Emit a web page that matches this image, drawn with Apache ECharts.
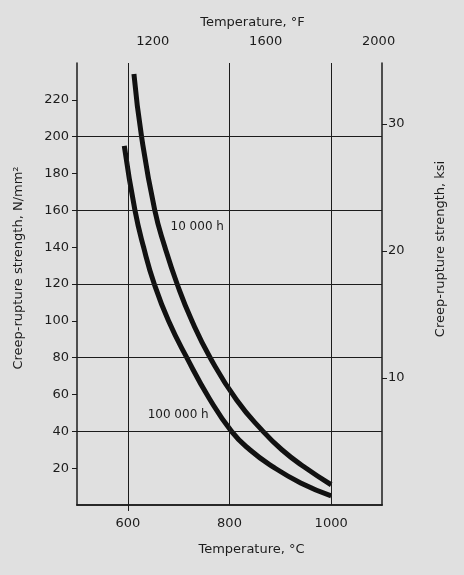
<!DOCTYPE html>
<html>
<head>
<meta charset="utf-8">
<script src="https://cdn.jsdelivr.net/npm/echarts@6/dist/echarts.min.js"></script>
<style>
  html, body { margin: 0; padding: 0; background: #e0e0e0; }
  #main { width: 464px; height: 575px; }
</style>
</head>
<body>
<div id="main"></div>
<script>
// creep-rupture curves, [temperature °C, strength N/mm²]
var rupture10k = [[612, 234], [627, 200], [653, 160], [673, 140], [697, 120],
  [726, 100], [762, 80], [814, 57], [866, 40], [903, 30], [945, 21], [1000, 11]];
var rupture100k = [[593, 195], [614, 160], [631, 140], [652, 120], [680, 100],
  [716, 80], [760, 58], [804, 40], [840, 30], [884, 21], [940, 12], [1000, 5]];

var celsiusLabels = [600, 800, 1000];
var celsiusTicks = [600];
var fahrenheitTicks = [1200, 1600, 2000];
var strengthTicks = [20, 40, 60, 80, 100, 120, 140, 160, 180, 200, 220];
var strengthGrid = [40, 80, 120, 160, 200];
var ksiTicks = [10, 20, 30];

var C_MIN = 500, C_MAX = 1100, N_MAX = 240;
var KSI_PER_N = 1 / 6.895;
var ink = '#1c1c1c';
var font = 'DejaVu Sans';
var plain = function (v) { return String(v); };

var gridLines = celsiusLabels.map(function (v) { return { xAxis: v }; })
  .concat(strengthGrid.map(function (v) { return { yAxis: v }; }));

var nameStyle = function (pad) {
  return { fontSize: 13, color: ink, fontFamily: font, padding: pad };
};

var chart = echarts.init(document.getElementById('main'));
chart.setOption({
  backgroundColor: '#e0e0e0',
  animation: false,
  textStyle: { fontFamily: font, color: ink },
  grid: { left: 77, right: 82, top: 63, bottom: 70 },
  xAxis: [{
    type: 'value', position: 'bottom', min: C_MIN, max: C_MAX,
    name: 'Temperature, °C', nameLocation: 'middle', nameGap: 38,
    nameTextStyle: nameStyle([0, 0, 0, 44]),
    axisLine: { lineStyle: { color: ink, width: 1.5 } },
    axisTick: { show: true, customValues: celsiusTicks, length: 6, lineStyle: { color: ink } },
    axisLabel: { customValues: celsiusLabels, formatter: plain, fontSize: 13, color: ink, margin: 12 },
    splitLine: { show: false }
  }, {
    type: 'value', position: 'top', min: C_MIN * 1.8 + 32, max: C_MAX * 1.8 + 32,
    name: 'Temperature, °F', nameLocation: 'middle', nameGap: 34,
    nameTextStyle: nameStyle([0, 0, 0, 46]),
    axisLine: { lineStyle: { color: ink, width: 1.5 } },
    axisTick: { show: false },
    axisLabel: { customValues: fahrenheitTicks, formatter: plain, fontSize: 13, color: ink, margin: 15 },
    splitLine: { show: false }
  }],
  yAxis: [{
    type: 'value', position: 'left', min: 0, max: N_MAX,
    name: 'Creep-rupture strength, N/mm²', nameLocation: 'middle', nameGap: 52,
    nameTextStyle: nameStyle([0, 0, 0, 32]),
    axisLine: { show: true, lineStyle: { color: ink, width: 1.5 } },
    axisTick: { show: true, customValues: strengthTicks, length: 5, lineStyle: { color: ink } },
    axisLabel: { customValues: strengthTicks, formatter: plain, fontSize: 13, color: ink, margin: 8 },
    splitLine: { show: false }
  }, {
    type: 'value', position: 'right', min: 0, max: N_MAX * KSI_PER_N,
    name: 'Creep-rupture strength, ksi', nameLocation: 'middle', nameGap: 52,
    nameRotate: 90,
    nameTextStyle: nameStyle([0, 0, 0, 70]),
    axisLine: { show: true, lineStyle: { color: ink, width: 1.5 } },
    axisTick: { show: true, customValues: ksiTicks, length: 5, lineStyle: { color: ink } },
    axisLabel: { customValues: ksiTicks, formatter: plain, fontSize: 13, color: ink, margin: 6 },
    splitLine: { show: false }
  }],
  series: [{
    name: '10 000 h', type: 'line', xAxisIndex: 0, yAxisIndex: 0,
    data: rupture10k, smooth: 0.5, showSymbol: false, silent: true,
    lineStyle: { color: '#111', width: 5 },
    markLine: {
      silent: true, symbol: 'none', label: { show: false },
      lineStyle: { color: ink, width: 1, type: 'solid' },
      data: gridLines
    },
    markPoint: {
      symbol: 'circle', symbolSize: 1, itemStyle: { color: 'transparent' },
      label: { show: true, position: 'right', distance: 0, formatter: '10 000 h', fontSize: 12, color: ink, fontFamily: font },
      data: [{ coord: [683, 151] }]
    }
  }, {
    name: '100 000 h', type: 'line', xAxisIndex: 0, yAxisIndex: 0,
    data: rupture100k, smooth: 0.5, showSymbol: false, silent: true,
    lineStyle: { color: '#111', width: 5 },
    markPoint: {
      symbol: 'circle', symbolSize: 1, itemStyle: { color: 'transparent' },
      label: { show: true, position: 'right', distance: 0, formatter: '100 000 h', fontSize: 12, color: ink, fontFamily: font },
      data: [{ coord: [638, 49] }]
    }
  }]
});
</script>
</body>
</html>
